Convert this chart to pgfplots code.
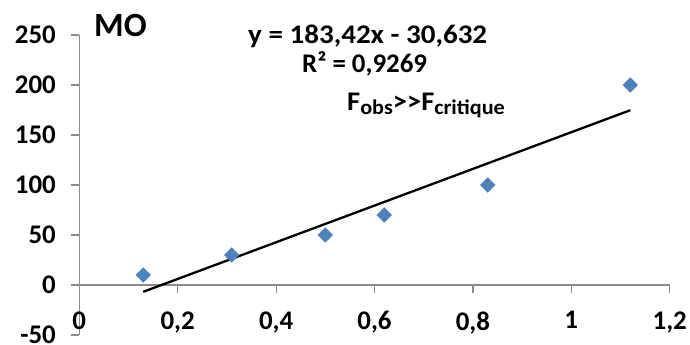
\documentclass[border=0pt]{standalone}
\usepackage{fontspec}
\setmainfont{Carlito}
\usepackage{pgfplots}
\pgfplotsset{compat=1.18}
\definecolor{axgray}{HTML}{8C8C8C}
\definecolor{ptblue}{HTML}{4F81BD}
\newcommand{\sub}[1]{\raisebox{-4.5bp}{\fontsize{21}{24}\selectfont #1}}
\begin{document}
\begin{tikzpicture}[x=1bp,y=1bp]
\useasboundingbox (0,0) rectangle (690,344);
\begin{axis}[
  at={(79.3bp,9bp)}, anchor=south west,
  scale only axis, width=590.4bp, height=300bp,
  xmin=0, xmax=1.2, ymin=-50, ymax=250,
  axis x line=middle, axis y line=left,
  every inner x axis line/.append style={-},
  every outer y axis line/.append style={-},
  every inner y axis line/.append style={-},
  every outer x axis line/.append style={-},
  axis line style={axgray, line width=1.2bp},
  xtick={0,0.2,0.4,0.6,0.8,1,1.2},
  xticklabels={0,{0,2},{0,4},{0,6},{0,8},1,{1,2}},
  ytick={-50,0,50,100,150,200,250},
  yticklabels={-50,0,50,100,150,200,250},
  hide obscured x ticks=false, hide obscured y ticks=false,
  tick align=outside, major tick length=8bp,
  tick style={axgray, line width=1.2bp},
  ticklabel style={font=\fontsize{27}{30}\selectfont\bfseries, text=black},
  xticklabel style={yshift=-15bp},
  yticklabel style={xshift=-12bp},
  clip=false,
]
\addplot[only marks, mark=square*, mark size=5.2bp,
  mark options={rotate=45, fill=ptblue, draw=ptblue}]
  coordinates {(0.13,10) (0.31,30) (0.5,50) (0.62,70) (0.83,100) (1.12,200)};
\addplot[black, line width=2.3bp] coordinates {(0.13,-6.79) (1.12,174.80)};
\end{axis}
\node[anchor=west, inner sep=0, font=\fontsize{34}{40}\selectfont\bfseries] at (94,318) {MO};
\node[anchor=base west, inner sep=0, xscale=1.08, font=\fontsize{27}{30}\selectfont\bfseries] at (248,301) {y = 183,42x - 30,632};
\node[anchor=base west, inner sep=0, font=\fontsize{27}{30}\selectfont\bfseries] at (302,272) {R² = 0,9269};
\node[anchor=base west, inner sep=0, xscale=1.06, font=\fontsize{27}{30}\selectfont\bfseries] at (347,234) {F\sub{obs}>{}>F\sub{critique}};
\end{tikzpicture}
\end{document}
